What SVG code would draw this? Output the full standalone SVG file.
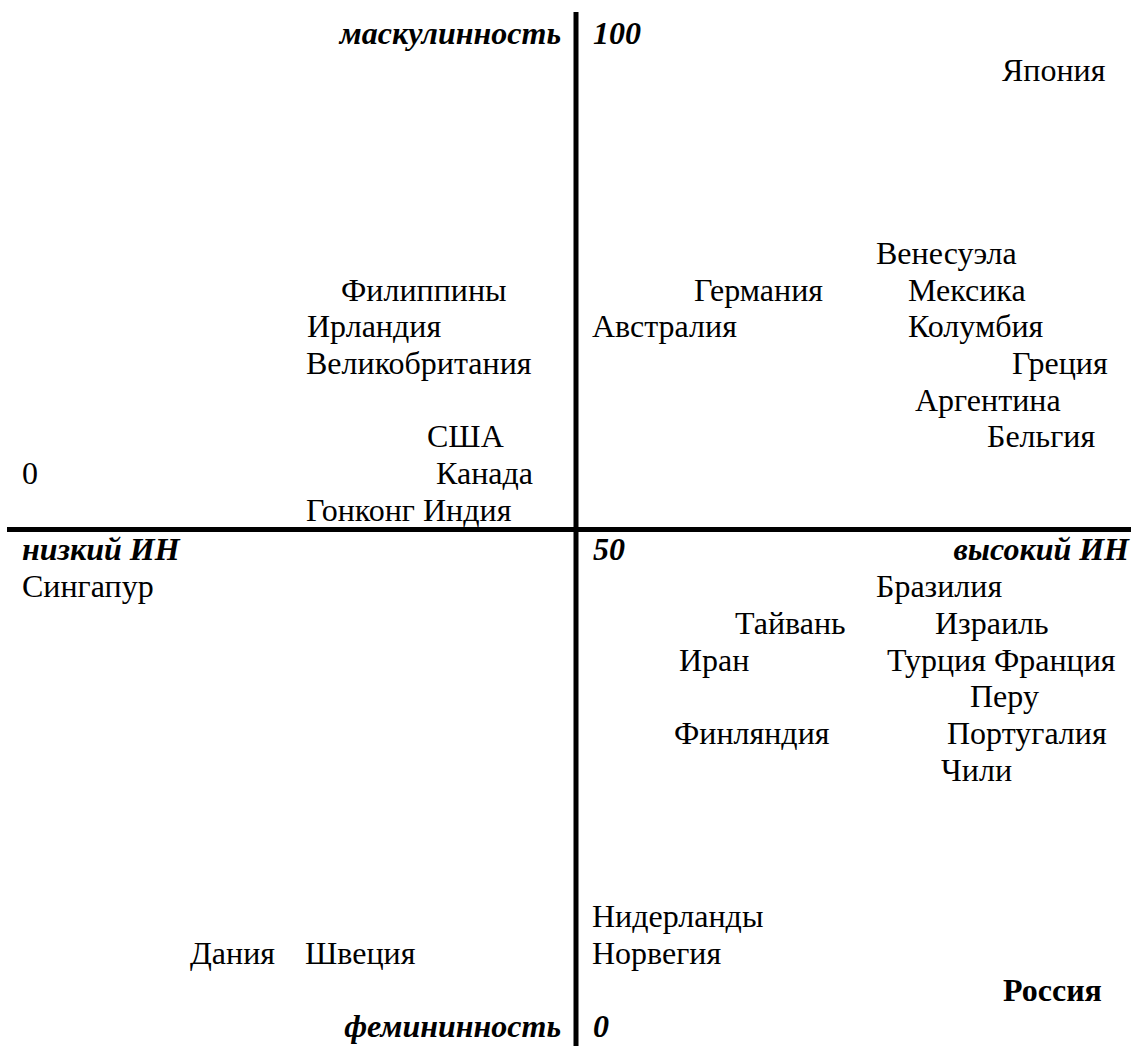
<svg xmlns="http://www.w3.org/2000/svg" width="1137" height="1046" viewBox="0 0 1137 1046">
<style>
text{font-family:'Liberation Serif','Times New Roman','DejaVu Serif',serif;font-size:32px;fill:#000}
.bi{font-weight:bold;font-style:italic}
.b{font-weight:bold}
.ax{stroke:#000;stroke-width:5;fill:none}
</style>
<rect width="1137" height="1046" fill="#fff"/>
<g id="axes">
<line class="ax" x1="576" y1="12" x2="576" y2="1046"/>
<line class="ax" x1="7" y1="529.5" x2="1131" y2="529.5"/>
</g>
<g id="axis-labels">
<text class="bi" x="561" y="44" text-anchor="end">маскулинность</text>
<text class="bi" x="593" y="44">100</text>
<text x="22" y="484">0</text>
<text class="bi" x="22" y="560">низкий ИН</text>
<text class="bi" x="593" y="560">50</text>
<text class="bi" x="1129" y="560" text-anchor="end">высокий ИН</text>
<text class="bi" x="561" y="1037" text-anchor="end">фемининность</text>
<text class="bi" x="593" y="1037">0</text>
</g>
<g id="countries">
<text x="1002" y="81">Япония</text>
<text x="876" y="264">Венесуэла</text>
<text x="341" y="301">Филиппины</text>
<text x="694" y="301">Германия</text>
<text x="908" y="301">Мексика</text>
<text x="307" y="337">Ирландия</text>
<text x="592" y="337">Австралия</text>
<text x="908" y="337">Колумбия</text>
<text x="306" y="374">Великобритания</text>
<text x="1012" y="374">Греция</text>
<text x="915" y="411">Аргентина</text>
<text x="427" y="447">США</text>
<text x="987" y="447">Бельгия</text>
<text x="436" y="484">Канада</text>
<text x="306" y="521">Гонконг Индия</text>
<text x="22" y="597">Сингапур</text>
<text x="876" y="597">Бразилия</text>
<text x="735" y="634">Тайвань</text>
<text x="935" y="634">Израиль</text>
<text x="679" y="671">Иран</text>
<text x="887" y="671">Турция Франция</text>
<text x="970" y="707">Перу</text>
<text x="674" y="744">Финляндия</text>
<text x="947" y="744">Португалия</text>
<text x="941" y="781">Чили</text>
<text x="592" y="927">Нидерланды</text>
<text x="190" y="964">Дания</text>
<text x="305" y="964">Швеция</text>
<text x="592" y="964">Норвегия</text>
<text class="b" x="1003" y="1001">Россия</text>
</g>
</svg>
